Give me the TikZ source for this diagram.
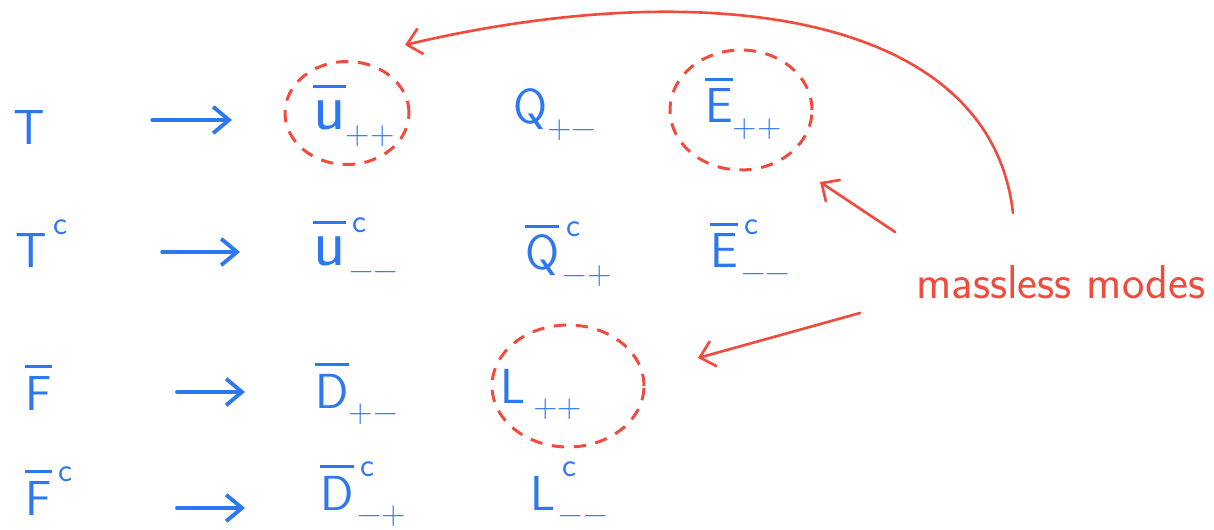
\documentclass[tikz,border=0pt]{standalone}
\usepackage{tikz}
\usepackage{xcolor}
\usetikzlibrary{shapes.geometric, arrows.meta, positioning}

\definecolor{penblue}{RGB}{45,120,240}
\definecolor{penred}{RGB}{240,75,60}

\newlength{\barlen}
\newcommand{\barred}[1]{\settowidth{\barlen}{#1}\rlap{\raisebox{.85em}{\rule{\barlen}{1.8pt}}}#1}
\newcommand{\bigu}{{\fontsize{38}{40}\selectfont u}}
\newcommand{\loscr}[1]{\raisebox{-.3em}{\fontsize{19}{19}\selectfont #1}}
\newcommand{\hiscr}[1]{\rlap{\kern4pt\raisebox{.68em}{\fontsize{19}{19}\selectfont #1}}}

\begin{document}
\begin{tikzpicture}[x=0.02cm, y=-0.02cm,
    field/.style={anchor=base west, inner sep=0pt, text=penblue, font=\fontsize{28}{32}\selectfont\sffamily},
    maps/.style={draw=penblue, line width=2.2pt, line cap=round, -{Straight Barb[length=9pt, width=15pt]}},
    ring/.style={ellipse, draw=penred, line width=1.7pt, dash pattern=on 7pt off 5.5pt, inner sep=0pt},
    hand/.style={draw=penred, line width=1.5pt, line cap=round, -{Straight Barb[length=8pt, width=15pt]}}]
    \useasboundingbox (0,0) rectangle (1214,530);

    % multiplets and their decomposition
    \node[field] (t)  at (13,145)  {T};
    \node[field] (u)  at (313,130) {\barred{\bigu}\loscr{++}};
    \node[field] (q)  at (513,124) {Q\loscr{+−}};
    \node[field] (e)  at (705,123) {\barred{E}\loscr{++}};

    \node[field] (tc) at (15,268)  {T\hiscr{c}};
    \node[field] (uc) at (313,266) {\barred{\bigu}\hiscr{c}\kern2pt\loscr{−−}};
    \node[field] (qc) at (525,270) {\barred{Q}\hiscr{c}\kern2pt\loscr{−+}};
    \node[field] (ec) at (710,268) {\barred{E}\hiscr{c}\kern2pt\loscr{−−}};

    \node[field] (f)  at (25,410)  {\barred{F}};
    \node[field] (d)  at (315,408) {\barred{D}\loscr{+−}};
    \node[field] (l)  at (500,403) {L\,\loscr{++}};

    \node[field] (fc) at (25,515)  {\barred{F}\hiscr{c}};
    \node[field] (dc) at (320,510) {\barred{D}\hiscr{c}\kern2pt\loscr{−+}};
    \node[field] (lc) at (530,510) {L\hiscr{c}\kern2pt\loscr{−−}};

    \draw[maps] ([shift={(107,-25)}]t.base east)  -- ([shift={(-81,-25)}]t.base east -| u.base west);
    \draw[maps] ([shift={(115,-16)}]tc.base east) -- ([shift={(-73,-16)}]tc.base east -| uc.base west);
    \draw[maps] ([shift={(125,-18)}]f.base east)  -- ([shift={(-70,-18)}]f.base east -| d.base west);
    \draw[maps] ([shift={(125,-7)}]fc.base east) -- ([shift={(-75,-7)}]fc.base east -| dc.base west);

    % massless modes
    \node[ring, minimum width=2.48cm, minimum height=2.06cm] (ringU) at (347,113) {};
    \node[ring, minimum width=2.84cm, minimum height=2.4cm]  (ringE) at (741,110) {};
    \node[ring, minimum width=3.04cm, minimum height=2.44cm] (ringL) at (568,386) {};

    \node[anchor=base west, inner sep=0pt, text=penred, font=\fontsize{27}{30}\selectfont\sffamily] (tag) at (916,298) {massless modes};

    \coordinate (fromU) at (1013,213);
    \coordinate (tipU)  at (405,45);
    \coordinate (fromE) at (895,232);
    \coordinate (tipE)  at (820,182);
    \coordinate (fromL) at (860,313);
    \coordinate (tipL)  at (698,358);

    \draw[hand] (fromU) .. controls (990,10) and (700,-25) .. (tipU);
    \draw[hand] (fromE) -- (tipE);
    \draw[hand] (fromL) -- (tipL);
\end{tikzpicture}
\end{document}
